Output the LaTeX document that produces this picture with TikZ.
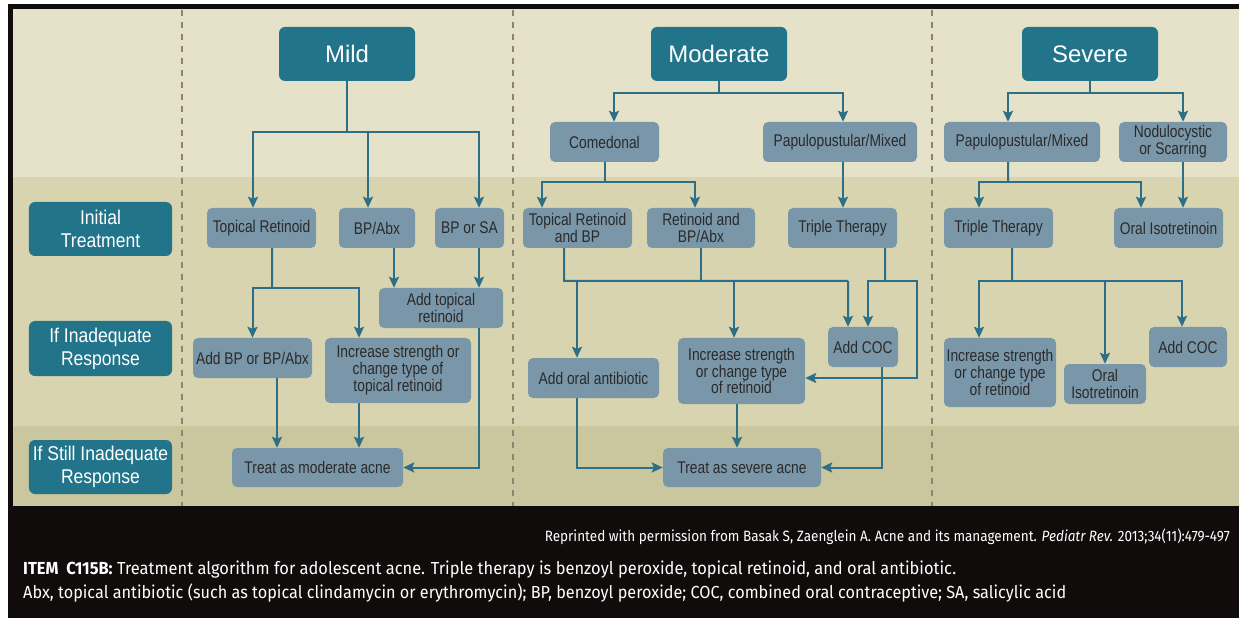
\documentclass[tikz,border=0pt]{standalone}
\usepackage{fontspec}
\usepackage{graphicx}
\setmainfont{Liberation Sans}
\newfontfamily\boxfont[FakeStretch=0.815]{Liberation Sans}
\newfontfamily\rowfont[FakeStretch=0.88]{Liberation Sans}
\newfontfamily\capfont{Fira Sans}
\usetikzlibrary{arrows.meta}

\definecolor{bandA}{HTML}{E5E2C9}
\definecolor{bandB}{HTML}{D8D4B0}
\definecolor{bandC}{HTML}{CAC69D}
\definecolor{hdteal}{HTML}{21748A}
\definecolor{boxblue}{HTML}{7A97AA}
\definecolor{arrowc}{HTML}{2D6F86}
\definecolor{dashc}{HTML}{8B8470}
\definecolor{inkc}{HTML}{2A2A2A}
\definecolor{capbg}{HTML}{110C0C}

% set a caption line and stretch it horizontally to a given width
\newsavebox\capbox
\newcommand\fitto[2]{\sbox\capbox{#2}\pgfmathsetmacro\capratio{#1/\wd\capbox}\scalebox{\capratio}[1]{\usebox\capbox}}

\begin{document}
\begin{tikzpicture}[x=1bp,y=-1bp,
  hbox/.style={fill=hdteal, rounded corners=6bp, text=white, inner sep=0,
    font=\fontsize{24}{26}\selectfont, minimum width=136bp, minimum height=54bp},
  rowlbl/.style={fill=hdteal, rounded corners=6bp, text=white, inner sep=0, align=center,
    font=\rowfont\fontsize{20}{23}\selectfont, minimum width=143bp},
  lbox/.style={fill=boxblue, rounded corners=5bp, text=inkc, inner sep=0, align=center,
    font=\boxfont\fontsize{17}{17}\selectfont, minimum height=40bp},
  link/.style={draw=arrowc, line width=2bp},
  arr/.style={link, -{Stealth[length=11bp, width=10bp, inset=2bp]}},
  sep/.style={draw=dashc, line width=1.5bp, dash pattern=on 6bp off 6bp},
  captext/.style={text=white, inner sep=0}]

\useasboundingbox (0,0) rectangle (1239,618);
\fill[white] (0,0) rectangle (1239,618);
\fill[capbg] (8,4) rectangle (1239,618);

% background bands for the three response levels
\fill[bandA] (13,9) rectangle (1239,177);
\fill[bandB] (13,177) rectangle (1239,426);
\fill[bandC] (13,426) rectangle (1239,506);

% column separators
\draw[sep] (182,10) -- (182,506);
\draw[sep] (513,10) -- (513,506);
\draw[sep] (932,10) -- (932,506);

% severity headers
\node[hbox] (mild) at (347,54) {Mild};
\node[hbox] (moderate) at (719,54) {Moderate};
\node[hbox] (severe) at (1090,54) {Severe};

% row labels
\node[rowlbl, minimum height=54bp] (rInit) at (100.5,229) {Initial\\Treatment};
\node[rowlbl, minimum height=55bp] (rInad) at (100.5,348.5) {If Inadequate\\Response};
\node[rowlbl, minimum height=54bp] (rStill) at (100.5,467) {If Still Inadequate\\Response};

% mild column
\node[lbox, minimum width=109bp] (mTR) at (261.5,228) {Topical Retinoid};
\node[lbox, minimum width=76bp] (mBA) at (377,228) {BP/Abx};
\node[lbox, minimum width=69bp] (mBS) at (469.5,228) {BP or SA};
\node[lbox, minimum width=124bp] (mATR) at (441,308) {Add topical\\retinoid};
\node[lbox, minimum width=119bp] (mABP) at (252.5,358) {Add BP or BP/Abx};
\node[lbox, minimum width=146bp, minimum height=65bp] (mInc) at (398,370.5) {Increase strength or\\change type of\\topical retinoid};
\node[lbox, minimum width=171bp, minimum height=39bp] (mTreat) at (317.5,467.5) {Treat as moderate acne};

% moderate column
\node[lbox, minimum width=109bp] (oCom) at (604.5,142) {Comedonal};
\node[lbox, minimum width=154bp] (oPap) at (840,142) {Papulopustular/Mixed};
\node[lbox, minimum width=109bp] (oTRB) at (577.5,228) {Topical Retinoid\\and BP};
\node[lbox, minimum width=108bp] (oRBA) at (701,228) {Retinoid and\\BP/Abx};
\node[lbox, minimum width=109bp] (oTT) at (842.5,228) {Triple Therapy};
\node[lbox, minimum width=131bp] (oAOA) at (593.5,378) {Add oral antibiotic};
\node[lbox, minimum width=127bp, minimum height=66bp] (oInc) at (741.5,371) {Increase strength\\or change type\\of retinoid};
\node[lbox, minimum width=70bp] (oCOC) at (863,347) {Add COC};
\node[lbox, minimum width=158bp, minimum height=39bp] (oTreat) at (742,467.5) {Treat as severe acne};

% severe column
\node[lbox, minimum width=156bp] (sPap) at (1022,142) {Papulopustular/Mixed};
\node[lbox, minimum width=108bp] (sNod) at (1173,142) {Nodulocystic\\or Scarring};
\node[lbox, minimum width=109bp] (sTT) at (998.5,228) {Triple Therapy};
\node[lbox, minimum width=109bp] (sOI) at (1168.5,228) {Oral Isotretinoin};
\node[lbox, minimum width=112bp, minimum height=69bp] (sInc) at (1000,372.5) {Increase strength\\or change type\\of retinoid};
\node[lbox, minimum width=82bp] (sOI2) at (1105,384) {Oral\\Isotretinoin};
\node[lbox, minimum width=78bp] (sCOC) at (1188,347) {Add COC};

% mild connectors
\coordinate (mJ) at (347,132);
\draw[link] (mild.south) -- (mJ);
\draw[arr] (mJ) -| ([xshift=-8.5bp]mTR.north);
\draw[arr] (mJ) -| ([xshift=-9bp]mBA.north);
\draw[arr] (mJ) -| ([xshift=9.5bp]mBS.north);
\coordinate (mK) at (272,288);
\draw[link] ([xshift=10.5bp]mTR.south) -- (mK);
\draw[arr] (mK) -| (mABP.north);
\draw[arr] (mK) -| ([xshift=-39bp]mInc.north);
\draw[arr] ([xshift=17bp]mBA.south) -- ([xshift=17bp]mBA.south |- mATR.north);
\draw[arr] ([xshift=9.5bp]mBS.south) -- ([xshift=9.5bp]mBS.south |- mATR.north);
\draw[arr] ([xshift=24.5bp]mABP.south) -- ([xshift=24.5bp]mABP.south |- mTreat.north);
\draw[arr] ([xshift=-39bp]mInc.south) -- ([xshift=-39bp]mInc.south |- mTreat.north);
\draw[arr] ([xshift=38bp]mATR.south) |- (mTreat.east);

% moderate connectors
\coordinate (oJ) at (719,93);
\draw[link] (moderate.south) -- (oJ);
\draw[arr] (oJ) -| ([xshift=9.5bp]oCom.north);
\draw[arr] (oJ) -| ([xshift=3bp]oPap.north);
\coordinate (oK) at (604.5,182);
\draw[link] (oCom.south) -- (oK);
\draw[arr] (oK) -| ([xshift=-35.5bp]oTRB.north);
\draw[arr] (oK) -| ([xshift=-6bp]oRBA.north);
\draw[arr] ([xshift=3bp]oPap.south) -- ([xshift=3bp]oPap.south |- oTT.north);
\coordinate (oL) at (564,281);
\coordinate (oM) at (848,281);
\draw[link] ([xshift=-13.5bp]oTRB.south) -- (oL) -- (oM);
\draw[link] (oRBA.south) -- (oRBA.south |- oL);
\draw[arr] ([xshift=-16.5bp]oAOA.north |- oL) -- ([xshift=-16.5bp]oAOA.north);
\draw[arr] ([xshift=-7.5bp]oInc.north |- oL) -- ([xshift=-7.5bp]oInc.north);
\draw[arr] (oM) -- ([xshift=-15bp]oCOC.north);
\coordinate (oN) at (885,281);
\coordinate (oP) at (917,281);
\draw[link] ([xshift=42.5bp]oTT.south) -- (oN);
\draw[arr] (oN) -| ([xshift=5bp]oCOC.north);
\draw[arr] (oN) -- (oP) |- ([yshift=-7bp]oInc.east);
\draw[arr] ([xshift=-16.5bp]oAOA.south) |- (oTreat.west);
\draw[arr] ([xshift=-4.5bp]oInc.south) -- ([xshift=-4.5bp]oInc.south |- oTreat.north);
\draw[arr] ([xshift=19bp]oCOC.south) |- (oTreat.east);

% severe connectors
\coordinate (sJ) at (1090,93);
\draw[link] (severe.south) -- (sJ);
\draw[arr] (sJ) -| ([xshift=-14bp]sPap.north);
\draw[arr] (sJ) -| ([xshift=10bp]sNod.north);
\coordinate (sK) at (1008,182);
\draw[link] ([xshift=-14bp]sPap.south) -- (sK);
\draw[arr] (sK) -| ([xshift=-19.5bp]sTT.north);
\draw[arr] (sK) -| ([xshift=-27.5bp]sOI.north);
\draw[arr] ([xshift=10bp]sNod.south) -- ([xshift=10bp]sNod.south |- sOI.north);
\coordinate (sL) at (1012,281);
\draw[link] ([xshift=13.5bp]sTT.south) -- (sL);
\draw[arr] (sL) -| ([xshift=-21bp]sInc.north);
\draw[arr] (sL) -| (sOI2.north);
\draw[arr] (sL) -| ([xshift=-6bp]sCOC.north);

% caption block
\node[captext, anchor=base east, font=\capfont\fontsize{15}{17}\selectfont] (credit) at (1230,541)
  {\fitto{685bp}{Reprinted with permission from Basak S, Zaenglein A. Acne and its management. \textit{Pediatr Rev.} 2013;34(11):479-497}};
\node[captext, anchor=base west, font=\capfont\fontsize{17.5}{19}\selectfont] (item) at (23,574)
  {\fitto{933bp}{\textbf{ITEM\ \ C115B:} Treatment algorithm for adolescent acne. Triple therapy is benzoyl peroxide, topical retinoid, and oral antibiotic.}};
\node[captext, anchor=base west, font=\capfont\fontsize{17.5}{19}\selectfont] (abbr) at (23,598)
  {\fitto{1043bp}{Abx, topical antibiotic (such as topical clindamycin or erythromycin); BP, benzoyl peroxide; COC, combined oral contraceptive; SA, salicylic acid}};
\end{tikzpicture}
\end{document}
